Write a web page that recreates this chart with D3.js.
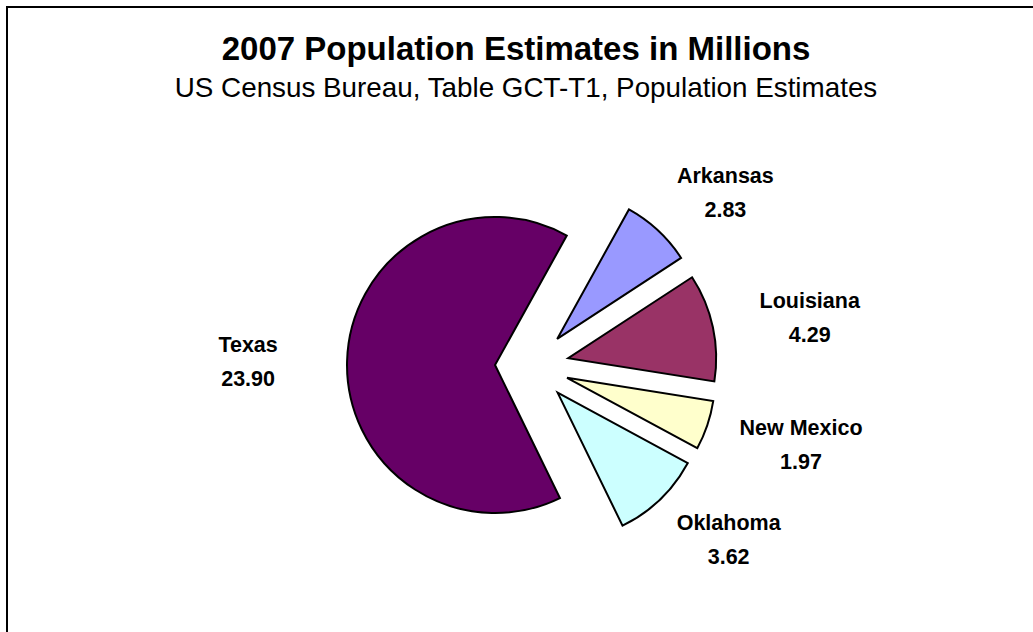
<!DOCTYPE html>
<html>
<head>
<meta charset="utf-8">
<script src="https://cdn.jsdelivr.net/npm/d3@7"></script>
<style>
  body { margin: 0; background: #fff; }
  text { font-family: "Liberation Sans", Arial, sans-serif; fill: #000; }
</style>
</head>
<body>
<script>
var w = 1033;
var h = 632;

// data
var states = ["Arkansas", "Louisiana", "New Mexico", "Oklahoma", "Texas"];
var population = [2.83, 4.29, 1.97, 3.62, 23.90];
var colors = ["#9999FF", "#993366", "#FFFFCC", "#CCFFFF", "#660066"];

var title = "2007 Population Estimates in Millions";
var subtitle = "US Census Bureau, Table GCT-T1, Population Estimates";

// pie layout
var cx = 532, cy = 366;
var radius = 148;
var explode = 37;
var startDeg = 29;
var labelRx = 284, labelRy = 239;

var svg = d3.select("body")
    .append("svg")
    .attr("width", w)
    .attr("height", h);

// outer frame (right/bottom fall outside the picture)
svg.append("rect")
    .attr("x", 7)
    .attr("y", 7)
    .attr("width", w + 20)
    .attr("height", h + 20)
    .attr("fill", "none")
    .attr("stroke", "#000")
    .attr("stroke-width", 2);

svg.append("text")
    .attr("x", 516)
    .attr("y", 60)
    .attr("text-anchor", "middle")
    .attr("font-size", "33px")
    .attr("font-weight", "bold")
    .text(title);

svg.append("text")
    .attr("x", 526)
    .attr("y", 97)
    .attr("text-anchor", "middle")
    .attr("font-size", "27.8px")
    .text(subtitle);

var data = states.map(function(s, i) {
    return { name: s, value: population[i], color: colors[i] };
});

var startA = startDeg * Math.PI / 180;
var pie = d3.pie()
    .sort(null)
    .value(function(d) { return d.value; })
    .startAngle(startA)
    .endAngle(startA + 2 * Math.PI);

var arc = d3.arc()
    .innerRadius(0)
    .outerRadius(radius);

var arcs = pie(data);

var g = svg.append("g")
    .attr("transform", "translate(" + cx + "," + cy + ")");

g.selectAll("path")
    .data(arcs)
    .enter()
    .append("path")
    .attr("d", arc)
    .attr("transform", function(d) {
        var a = (d.startAngle + d.endAngle) / 2;
        return "translate(" + (explode * Math.sin(a)) + "," + (-explode * Math.cos(a)) + ")";
    })
    .attr("fill", function(d) { return d.data.color; })
    .attr("stroke", "#000")
    .attr("stroke-width", 2)
    .attr("stroke-linejoin", "miter");

// data labels
var labels = g.selectAll("g.label")
    .data(arcs)
    .enter()
    .append("g")
    .attr("class", "label")
    .attr("transform", function(d) {
        var a = (d.startAngle + d.endAngle) / 2;
        return "translate(" + (labelRx * Math.sin(a)) + "," + (-labelRy * Math.cos(a)) + ")";
    });

labels.append("text")
    .attr("y", -8)
    .attr("text-anchor", "middle")
    .attr("font-size", "21.5px")
    .attr("font-weight", "bold")
    .text(function(d) { return d.data.name; });

labels.append("text")
    .attr("y", 26)
    .attr("text-anchor", "middle")
    .attr("font-size", "21.5px")
    .attr("font-weight", "bold")
    .text(function(d) { return d.data.value.toFixed(2); });
</script>
</body>
</html>
